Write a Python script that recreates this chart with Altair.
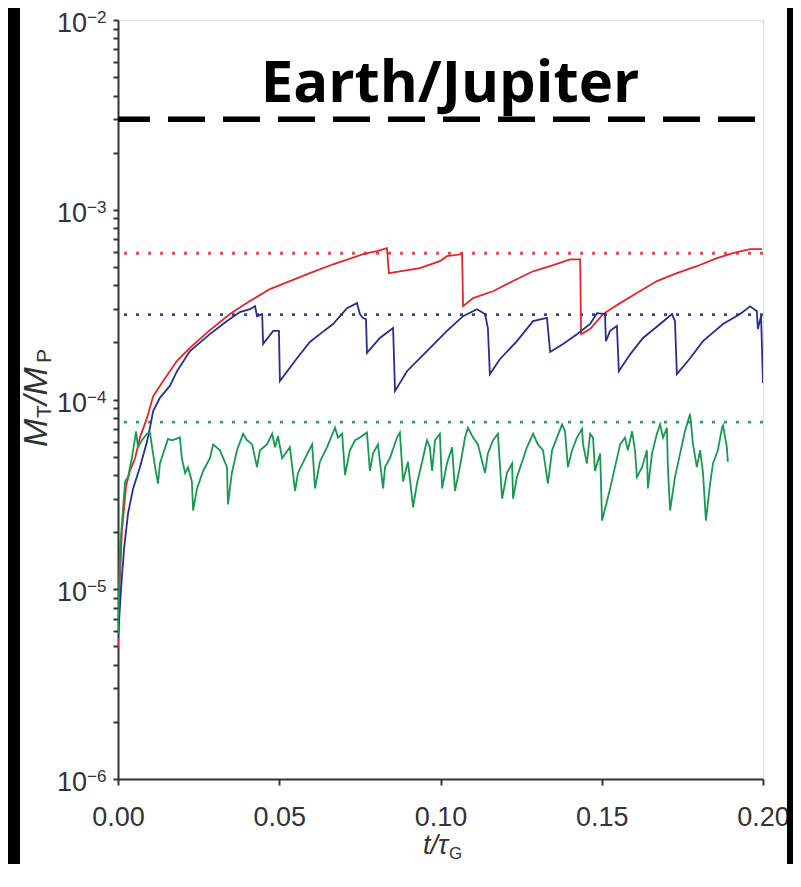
import altair as alt
import pandas as pd

# ---------------- data ----------------
red_t = [0.0, 0.0003, 0.0012, 0.0025, 0.0037, 0.0053, 0.0068, 0.0090, 0.0109, 0.0140,
         0.0183, 0.0223, 0.0285, 0.0347, 0.0409, 0.0471, 0.0533, 0.0595, 0.0667, 0.0760,
         0.0803, 0.0834, 0.0840, 0.0874, 0.0936, 0.0998, 0.1020, 0.1067, 0.1070, 0.1101,
         0.1163, 0.1225, 0.1287, 0.1340, 0.1402, 0.1433, 0.1436, 0.1464, 0.1504, 0.1557,
         0.1609, 0.1671, 0.1733, 0.1795, 0.1857, 0.1907, 0.1960, 0.1997]
red_m = [4.9e-6, 8.7e-6, 2.0e-5, 3.5e-5, 4.2e-5, 4.9e-5, 6.3e-5, 8.0e-5, 1.04e-4, 1.25e-4,
         1.60e-4, 1.87e-4, 2.32e-4, 2.82e-4, 3.30e-4, 3.82e-4, 4.21e-4, 4.63e-4, 5.16e-4, 5.83e-4,
         6.05e-4, 6.27e-4, 4.63e-4, 4.74e-4, 4.92e-4, 5.36e-4, 5.69e-4, 5.83e-4, 3.10e-4, 3.42e-4,
         3.72e-4, 4.21e-4, 4.74e-4, 5.04e-4, 5.48e-4, 5.48e-4, 2.21e-4, 2.35e-4, 2.82e-4, 3.22e-4,
         3.64e-4, 4.21e-4, 4.63e-4, 5.04e-4, 5.56e-4, 5.90e-4, 6.20e-4, 6.20e-4]

blue_t = [0.0, 0.0009, 0.0019, 0.0031, 0.0047, 0.0068, 0.0090, 0.0099, 0.0109, 0.0130,
          0.0161, 0.0183, 0.0223, 0.0285, 0.0338, 0.0378, 0.0409, 0.0425, 0.0431, 0.0447,
          0.0450, 0.0481, 0.0499, 0.0502, 0.0555, 0.0595, 0.0626, 0.0667, 0.0710, 0.0741,
          0.0750, 0.0760, 0.0769, 0.0772, 0.0812, 0.0853, 0.0859, 0.0896, 0.0958, 0.1020,
          0.1070, 0.1113, 0.1138, 0.1147, 0.1153, 0.1184, 0.1237, 0.1287, 0.1330, 0.1340,
          0.1380, 0.1423, 0.1464, 0.1485, 0.1510, 0.1513, 0.1526, 0.1547, 0.1553, 0.1588,
          0.1628, 0.1681, 0.1718, 0.1727, 0.1733, 0.1774, 0.1814, 0.1876, 0.1929, 0.1960,
          0.1981, 0.1984, 0.1994, 0.2000]
blue_m = [5.5e-6, 9.8e-6, 1.65e-5, 2.5e-5, 3.4e-5, 4.4e-5, 6.0e-5, 7.1e-5, 8.7e-5, 1.02e-4,
          1.18e-4, 1.41e-4, 1.80e-4, 2.21e-4, 2.59e-4, 2.89e-4, 2.99e-4, 3.10e-4, 2.75e-4, 2.82e-4,
          1.96e-4, 2.30e-4, 2.30e-4, 1.25e-4, 1.65e-4, 2.01e-4, 2.21e-4, 2.50e-4, 3.03e-4, 3.22e-4,
          2.82e-4, 2.69e-4, 2.65e-4, 1.76e-4, 2.11e-4, 2.38e-4, 1.11e-4, 1.41e-4, 1.80e-4, 2.30e-4,
          2.75e-4, 2.99e-4, 2.82e-4, 2.38e-4, 1.36e-4, 1.63e-4, 2.03e-4, 2.59e-4, 2.69e-4, 1.78e-4,
          1.96e-4, 2.21e-4, 2.50e-4, 2.85e-4, 2.82e-4, 2.03e-4, 2.30e-4, 2.44e-4, 1.41e-4, 1.73e-4,
          2.11e-4, 2.50e-4, 2.82e-4, 2.59e-4, 1.36e-4, 1.65e-4, 2.03e-4, 2.50e-4, 2.82e-4, 3.10e-4,
          2.92e-4, 2.35e-4, 2.75e-4, 1.22e-4]

green_t = [0.0, 0.0006, 0.0012, 0.0022, 0.0031, 0.0043, 0.0056, 0.0062, 0.0074, 0.0090,
           0.0099, 0.0115, 0.0124, 0.0130, 0.0155, 0.0167, 0.0192, 0.0198, 0.0208, 0.0217,
           0.0229, 0.0233, 0.0245, 0.0264, 0.0285, 0.0295, 0.0316, 0.0338, 0.0341, 0.0353,
           0.0369, 0.0388, 0.0400, 0.0416, 0.0431, 0.0440, 0.0462, 0.0478, 0.0487, 0.0496,
           0.0509, 0.0533, 0.0549, 0.0558, 0.0580, 0.0602, 0.0611, 0.0626, 0.0648, 0.0673,
           0.0682, 0.0695, 0.0704, 0.0719, 0.0735, 0.0750, 0.0772, 0.0781, 0.0791, 0.0806,
           0.0822, 0.0828, 0.0843, 0.0865, 0.0874, 0.0884, 0.0899, 0.0915, 0.0927, 0.0943,
           0.0958, 0.0967, 0.0974, 0.0983, 0.0998, 0.1005, 0.1020, 0.1036, 0.1045, 0.1060,
           0.1076, 0.1085, 0.1101, 0.1116, 0.1138, 0.1147, 0.1163, 0.1178, 0.1191, 0.1206,
           0.1222, 0.1225, 0.1237, 0.1253, 0.1268, 0.1287, 0.1302, 0.1318, 0.1333, 0.1346,
           0.1361, 0.1377, 0.1386, 0.1395, 0.1408, 0.1423, 0.1439, 0.1442, 0.1454, 0.1464,
           0.1473, 0.1479, 0.1495, 0.1501, 0.1516, 0.1526, 0.1541, 0.1557, 0.1572, 0.1581,
           0.1594, 0.1603, 0.1609, 0.1625, 0.1640, 0.1643, 0.1656, 0.1671, 0.1681, 0.1690,
           0.1702, 0.1705, 0.1712, 0.1727, 0.1743, 0.1758, 0.1774, 0.1783, 0.1795, 0.1805,
           0.1814, 0.1823, 0.1836, 0.1845, 0.1860, 0.1873, 0.1876, 0.1888, 0.1891]
green_m = [5.8e-6, 1.6e-5, 2.2e-5, 3.7e-5, 3.9e-5, 4.9e-5, 6.8e-5, 5.6e-5, 6.1e-5, 6.6e-5,
           6.7e-5, 4.4e-5, 3.6e-5, 4.6e-5, 6.2e-5, 6.1e-5, 6.3e-5, 4.9e-5, 4.1e-5, 4.4e-5,
           3.7e-5, 2.6e-5, 3.4e-5, 4.2e-5, 4.9e-5, 5.8e-5, 5.4e-5, 4.4e-5, 2.8e-5, 4.1e-5,
           5.4e-5, 6.6e-5, 6.1e-5, 5.8e-5, 4.4e-5, 5.4e-5, 5.8e-5, 6.6e-5, 5.6e-5, 6.4e-5,
           4.9e-5, 5.6e-5, 3.3e-5, 4.1e-5, 4.9e-5, 5.8e-5, 3.4e-5, 4.7e-5, 5.6e-5, 7.1e-5,
           6.3e-5, 6.6e-5, 4.0e-5, 5.4e-5, 6.1e-5, 6.3e-5, 6.7e-5, 4.2e-5, 5.2e-5, 5.8e-5,
           3.4e-5, 4.4e-5, 4.9e-5, 6.3e-5, 6.7e-5, 3.7e-5, 4.7e-5, 2.7e-5, 3.6e-5, 4.7e-5,
           6.1e-5, 5.6e-5, 4.2e-5, 6.1e-5, 6.6e-5, 3.4e-5, 4.6e-5, 5.6e-5, 3.3e-5, 4.4e-5,
           6.3e-5, 7.1e-5, 6.3e-5, 5.8e-5, 4.1e-5, 5.2e-5, 6.1e-5, 6.6e-5, 3.0e-5, 4.1e-5,
           4.6e-5, 3.0e-5, 3.9e-5, 4.7e-5, 5.6e-5, 6.6e-5, 5.8e-5, 5.4e-5, 3.6e-5, 5.4e-5,
           6.3e-5, 7.4e-5, 6.8e-5, 4.4e-5, 5.4e-5, 6.3e-5, 7.0e-5, 5.8e-5, 4.6e-5, 6.6e-5,
           6.3e-5, 4.2e-5, 5.2e-5, 2.3e-5, 2.9e-5, 3.4e-5, 4.4e-5, 5.8e-5, 6.3e-5, 5.4e-5,
           6.8e-5, 5.4e-5, 3.9e-5, 4.4e-5, 5.4e-5, 3.4e-5, 5.2e-5, 6.6e-5, 7.4e-5, 6.3e-5,
           7.1e-5, 4.4e-5, 2.6e-5, 3.9e-5, 5.2e-5, 6.8e-5, 8.4e-5, 5.8e-5, 4.4e-5, 5.4e-5,
           4.1e-5, 2.3e-5, 3.6e-5, 4.6e-5, 5.4e-5, 7.1e-5, 7.3e-5, 5.6e-5, 4.7e-5]

series_names = ["red", "blue", "green"]
line_colors = ["#e1262c", "#262f8c", "#17994f"]
dot_colors = ["#e34b50", "#3c4499", "#2aa35e"]
ref_levels = [5.9e-4, 2.8e-4, 7.6e-5]
earth_jupiter = [3.0e-3]

x_ticks = [0.0, 0.05, 0.10, 0.15, 0.20]
y_major = [1e-2, 1e-3, 1e-4, 1e-5, 1e-6]
y_base = ["10", "10", "10", "10", "10"]
y_exp = ["\u22122", "\u22123", "\u22124", "\u22125", "\u22126"]
y_ticks = [m * 10.0 ** k for k in range(-6, -2) for m in range(1, 10)] + [1e-2]

# ---------------- tables ----------------
frames = []
for name, tt, mm in [("red", red_t, red_m), ("blue", blue_t, blue_m), ("green", green_t, green_m)]:
    frames.append(pd.DataFrame({"t": tt, "m": mm, "series": name, "i": range(len(tt))}))
curves = pd.concat(frames, ignore_index=True)
refs = pd.DataFrame({"m": ref_levels, "series": series_names})
ej = pd.DataFrame({"m": earth_jupiter})
ylab = pd.DataFrame({"m": y_major, "base": y_base, "exp": y_exp})
one = pd.DataFrame({"a": [0]})

xs = alt.Scale(domain=[0, 0.2], nice=False, zero=False)
ys = alt.Scale(type="log", domain=[1e-6, 1e-2], nice=False)

FONT = "Liberation Sans Narrow, Liberation Sans, Arial, sans-serif"

x_axis = alt.Axis(values=x_ticks, format=".2f", title=None, grid=False,
                  labelFont=FONT, labelFontSize=27, labelColor="#333",
                  labelFlush=False, labelPadding=19, labelOverlap=False,
                  tickSize=6, tickWidth=2, tickColor="#333",
                  domainColor="#333", domainWidth=2)
y_axis = alt.Axis(values=y_ticks, labels=False, title=None, grid=False,
                  tickSize=5, tickWidth=2, tickColor="#333",
                  domainColor="#333", domainWidth=2)

X = alt.X("t:Q", scale=xs, axis=x_axis)
Y = alt.Y("m:Q", scale=ys, axis=y_axis)
col = alt.Color("series:N", scale=alt.Scale(domain=series_names, range=line_colors), legend=None)

dotted = alt.Chart(refs).mark_rule(strokeWidth=2.8, strokeDash=[3, 9]).encode(
    y=Y, stroke=alt.Stroke("series:N", scale=alt.Scale(domain=series_names, range=dot_colors), legend=None))

dashed = alt.Chart(ej).mark_rule(strokeWidth=5.5, strokeDash=[37, 18], strokeDashOffset=47,
                                 color="black").encode(y=Y)

lines = alt.Chart(curves).mark_line(strokeWidth=1.8, clip=True).encode(
    x=X, y=Y, color=col, order="i:Q")


def txt(s, x, y, size, style="normal", weight="normal", align="left",
        baseline="alphabetic", angle=0, font="Liberation Sans", color="#222"):
    return alt.Chart(one).mark_text(text=s, fontSize=size, fontStyle=style, fontWeight=weight,
                                    align=align, baseline=baseline, angle=angle,
                                    font=font, color=color).encode(
        x=alt.value(x), y=alt.value(y))


title_txt = txt("Earth/Jupiter", 332, 82, 58, weight="bold", align="center",
                font="Open Sans", color="black")

ylab_base = alt.Chart(ylab).mark_text(font=FONT, fontSize=27, align="right",
                                      baseline="middle", dy=4, color="#333").encode(
    y=Y, x=alt.value(-31), text="base:N")
ylab_exp = alt.Chart(ylab).mark_text(font=FONT, fontSize=17, align="left",
                                     baseline="middle", dy=-2, color="#333").encode(
    y=Y, x=alt.value(-31), text="exp:N")

# axis titles (italic with subscripts)
yt1 = txt("M", -71, 427, 34, style="italic", angle=270, color="#333")
yt2 = txt("T", -67, 398, 21, angle=270, color="#333")
yt3 = txt("/M", -71, 385, 34, style="italic", angle=270, color="#333")
yt4 = txt("P", -67, 343, 21, angle=270, color="#333")
xt1 = txt("t/\u03c4", 330, 834, 27, style="italic", align="right", color="#333")
xt2 = txt("G", 331, 839, 17, color="#333")

# black frame strips of the reference picture
strip_l = alt.Chart(one).mark_rect(color="black").encode(
    x=alt.value(-120), x2=alt.value(-98), y=alt.value(-20), y2=alt.value(900))
strip_r = alt.Chart(one).mark_rect(color="black").encode(
    x=alt.value(669), x2=alt.value(700), y=alt.value(-20), y2=alt.value(900))

chart = alt.layer(
    dotted, dashed, lines, title_txt, ylab_base, ylab_exp,
    yt1, yt2, yt3, yt4, xt1, xt2, strip_l, strip_r
).resolve_scale(color="independent", stroke="independent").properties(
    width=645, height=759,
    autosize=alt.AutoSizeParams(type="none"),
    padding={"left": 110, "top": 12, "right": 30, "bottom": 85},
).configure_view(stroke="#444", strokeWidth=2).configure(background="white")

chart.save("out.html", embed_options={"renderer": "svg", "actions": False})
